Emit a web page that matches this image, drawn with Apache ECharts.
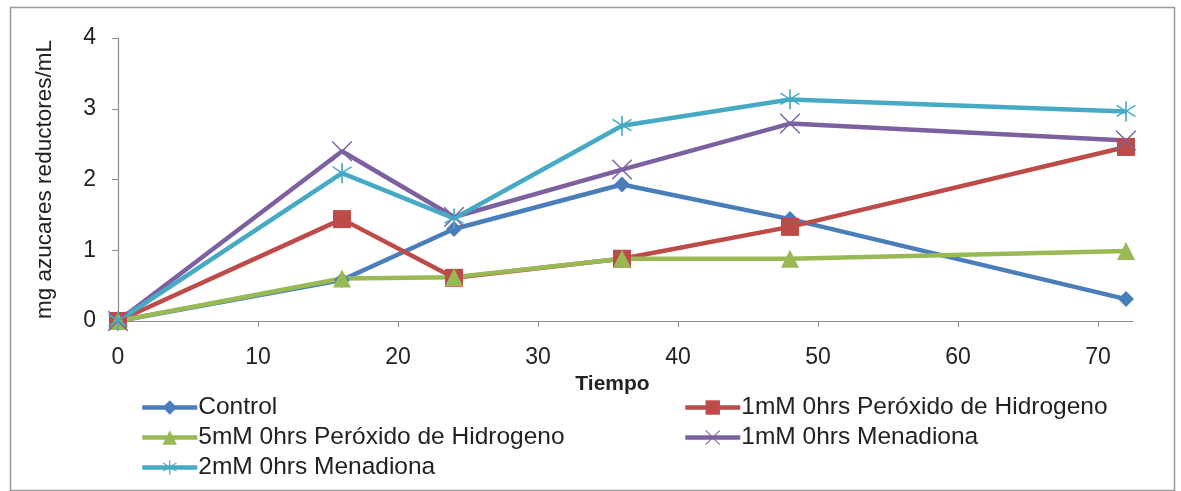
<!DOCTYPE html>
<html><head><meta charset="utf-8">
<script src="https://cdn.jsdelivr.net/npm/echarts@6/dist/echarts.min.js"></script>
<style>html,body{margin:0;padding:0;background:#fff}#c{width:1181px;height:491px}</style>
</head><body><div id="c"></div>
<script>
var xHours = [0, 16, 24, 36, 48, 72];
var control = [0, 0.58, 1.30, 1.93, 1.44, 0.31];
var h2o2_1mM = [0, 1.44, 0.61, 0.88, 1.33, 2.46];
var h2o2_5mM = [0, 0.60, 0.62, 0.88, 0.88, 0.99];
var mena_1mM = [0, 2.40, 1.47, 2.14, 2.79, 2.55];
var mena_2mM = [0, 2.09, 1.45, 2.76, 3.13, 2.96];
var seriesNames = ['Control', '1mM 0hrs Peróxido de Hidrogeno', '5mM 0hrs Peróxido de Hidrogeno', '1mM 0hrs Menadiona', '2mM 0hrs Menadiona'];
var yTicks = [0, 1, 2, 3, 4];
var xTicks = [0, 10, 20, 30, 40, 50, 60, 70];

function pts(vals){ return xHours.map(function(x,i){return [x, vals[i]];}); }
var FONT = '"Liberation Sans Narrow", "Liberation Sans", sans-serif';
var colors = ['#4a7ebb', '#be4b48', '#98b954', '#7d60a0', '#46aac5'];
var xPath = 'path://M0,0L1,0L10,9L19,0L20,0L20,1L11,10L20,19L20,20L19,20L10,11L1,20L0,20L0,19L9,10L0,1Z';
var starPath = 'path://M9.3,0L10.7,0L10.7,8.3L17.5,3.1L18.4,4.2L11.6,9.3L18.4,14.4L17.5,15.5L10.7,10.4L10.7,20L9.3,20L9.3,10.4L2.5,15.5L1.6,14.4L8.4,9.3L1.6,4.2L2.5,3.1L9.3,8.3Z';
var symbols = ['diamond', 'rect', 'triangle', xPath, starPath];
var sizes = [16, 18, 18, 20, 20];
var data = [control, h2o2_1mM, h2o2_5mM, mena_1mM, mena_2mM];

var series = data.map(function(d, i){
  return {
    name: seriesNames[i], type: 'line', data: pts(d),
    symbol: symbols[i], symbolSize: sizes[i], showSymbol: true,
    lineStyle: {width: 4.5, color: colors[i]},
    itemStyle: {color: colors[i]},
    emphasis: {disabled: true}, animation: false
  };
});

function leg(names, left, top){
  return {
    data: names, left: left, top: top, orient: 'vertical', itemGap: 5,
    itemWidth: 55, itemHeight: 18, padding: 0,
    lineStyle: {width: 4.5},
    textStyle: {fontFamily: FONT, fontSize: 24.5, color: '#222', padding: [0,0,0,-4]},
    selectedMode: false
  };
}

var chart = echarts.init(document.getElementById('c'));
chart.setOption({
  backgroundColor: '#fff',
  animation: false,
  grid: {left: 118, top: 38, width: 1015, height: 283},
  xAxis: {
    type: 'value', min: 0, max: 72.5, interval: 10,
    name: 'Tiempo', nameLocation: 'middle', nameGap: 50,
    nameTextStyle: {fontFamily: FONT, fontSize: 21, color: '#222', fontWeight: 'bold', padding: [0, 26, 0, 0]},
    axisLine: {show: true, lineStyle: {color: '#8c8c8c', width: 1.2}},
    axisTick: {show: true, length: 6, lineStyle: {color: '#8c8c8c'}},
    axisLabel: {fontFamily: FONT, fontSize: 23, color: '#222', margin: 25, showMaxLabel: false,
      formatter: function(v){ return xTicks.indexOf(v) >= 0 ? String(v) : ''; }},
    splitLine: {show: false}
  },
  yAxis: {
    type: 'value', min: 0, max: 4, interval: 1,
    name: 'mg azucares reductores/mL', nameLocation: 'middle', nameGap: 62, nameRotate: 90,
    nameTextStyle: {fontFamily: FONT, fontSize: 22.5, color: '#222'},
    axisLine: {show: true, lineStyle: {color: '#8c8c8c', width: 1.2}},
    axisTick: {show: true, inside: false, length: 6, lineStyle: {color: '#8c8c8c'}},
    axisLabel: {fontFamily: FONT, fontSize: 23, color: '#222', margin: 22,
      formatter: function(v){ return yTicks.indexOf(v) >= 0 ? String(v) : ''; }},
    splitLine: {show: false}
  },
  legend: [
    leg([seriesNames[0], seriesNames[2], seriesNames[4]], 140, 395),
    leg([seriesNames[1], seriesNames[3]], 683, 395)
  ],
  graphic: [{
    type: 'rect', left: 8, top: 5, silent: true, z: -1,
    shape: {width: 1164, height: 483},
    style: {fill: 'none', stroke: '#9a9a9a', lineWidth: 1.5}
  }],
  series: series
});
</script></body></html>
